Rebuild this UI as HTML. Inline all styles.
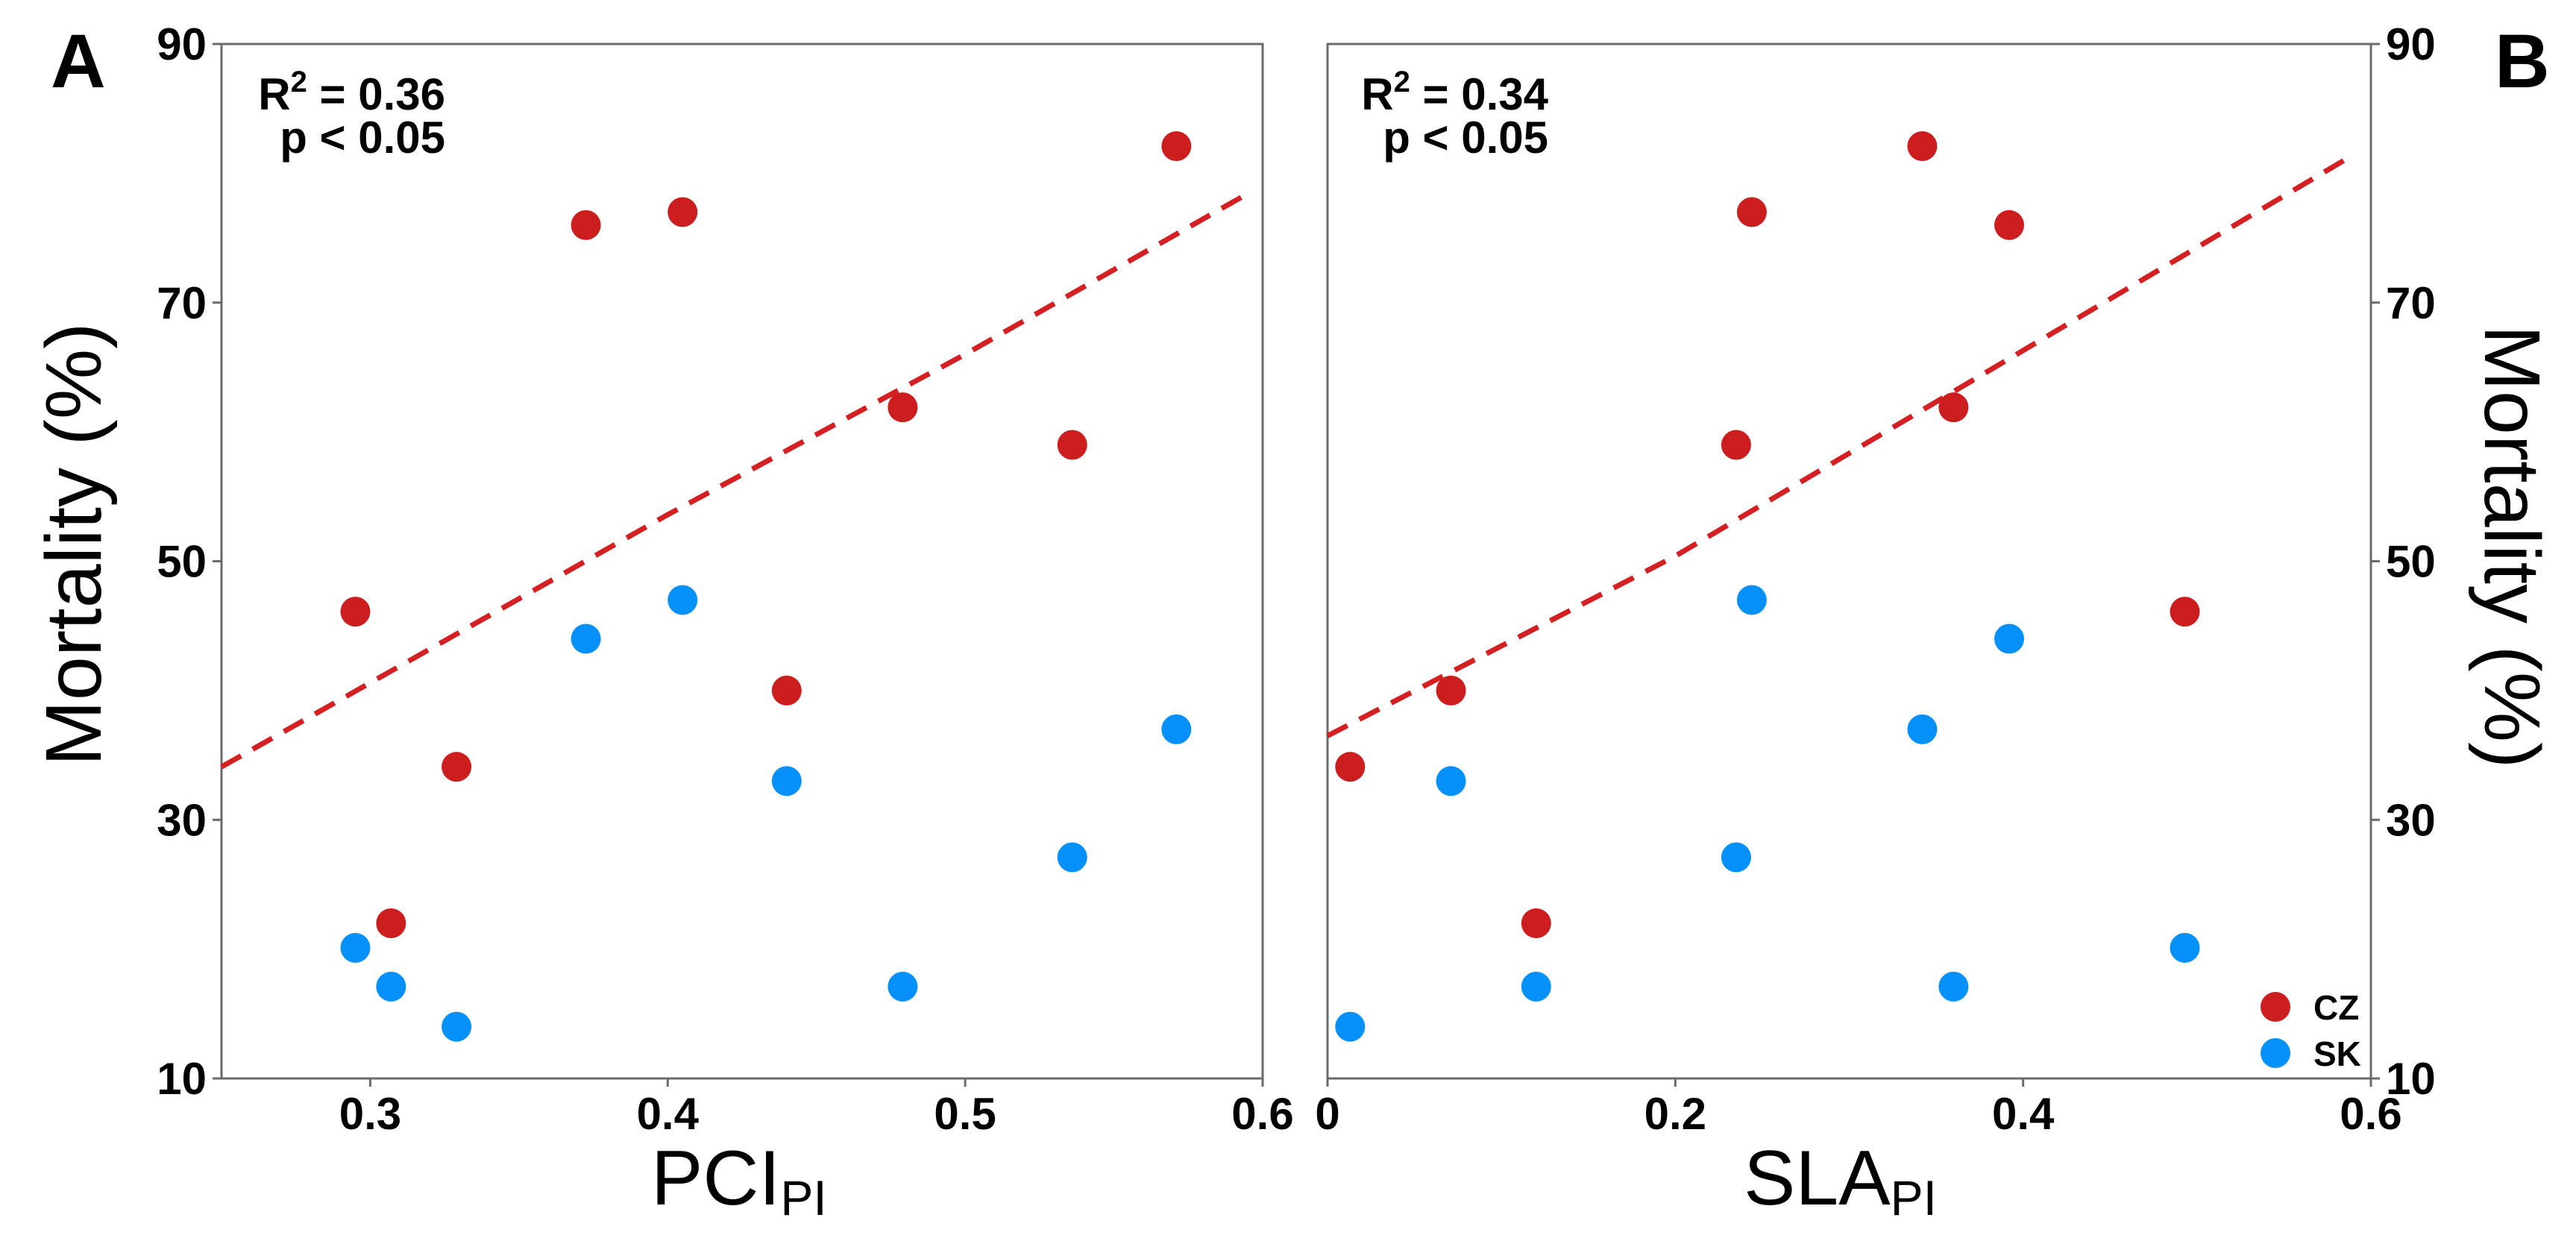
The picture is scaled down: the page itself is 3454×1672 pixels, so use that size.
<!DOCTYPE html>
<html><head><meta charset="utf-8"><style>
html,body{margin:0;padding:0;background:#fff;}
svg{display:block;font-family:"Liberation Sans",Arial,sans-serif;}
</style></head><body>
<svg id="fig" width="3454" height="1672" viewBox="0 0 3454 1672"></svg>
<script>
const yTicks=[10,30,50,70,90];
const xTicksA=[0.3,0.4,0.5,0.6];
const xTicksB=[0,0.2,0.4,0.6];
const pciCZ=[0.295,0.307,0.329,0.3725,0.405,0.440,0.479,0.536,0.571];
const pciCZm=[46.1,22.0,34.1,76.0,77.0,40.0,61.9,59.0,82.1];
const pciSK=[0.295,0.307,0.329,0.3725,0.405,0.440,0.479,0.536,0.571];
const pciSKm=[20.1,17.1,14.0,44.0,47.0,33.0,17.1,27.1,37.0];
const slaCZ=[0.013,0.071,0.120,0.235,0.244,0.342,0.360,0.392,0.493];
const slaCZm=[34.1,40.0,22.0,59.0,77.0,82.1,61.9,76.0,46.1];
const slaSK=[0.013,0.071,0.120,0.235,0.244,0.342,0.360,0.392,0.493];
const slaSKm=[14.0,33.0,17.1,27.1,47.0,37.0,17.1,44.0,20.1];
const trendAx=[0.25,0.4,0.5,0.594];
const trendAy=[34.1,53.6,66.0,78.3];
const trendBx=[0,0.2,0.4,0.587];
const trendBy=[36.5,50.4,66.3,81.2];

const NS="http://www.w3.org/2000/svg";
const svg=document.getElementById('fig');
function mk(tag,attrs,parent,txt){const e=document.createElementNS(NS,tag);for(const k in attrs)e.setAttribute(k,attrs[k]);if(txt!==undefined)e.textContent=txt;(parent||svg).appendChild(e);return e;}
const TOP=59,BOT=1446;
function yS(v){return BOT-(v-10)/80*(BOT-TOP);}
const RED="#cc1d1f",BLUE="#0690fa",AX="#6b6b6b";

function panel(name,x0,x1,xmin,xmax,xt,xtLabels,side){
  const g=mk('g',{});
  
  
  const xS=v=>x0+(v-xmin)/(xmax-xmin)*(x1-x0);
  const f=mk('rect',{x:x0,y:TOP,width:x1-x0,height:BOT-TOP,fill:'none',stroke:AX,'stroke-width':3},g);
  
  
  xt.forEach((t,i)=>{
    const x=xS(t);
    const tk=mk('line',{x1:x,x2:x,y1:BOT,y2:BOT+11,stroke:AX,'stroke-width':3},g);
    
    
    const lb=mk('text',{x:x,y:1514,'text-anchor':'middle','font-size':60,'font-weight':'bold'},g,xtLabels[i]);
    
    
  });
  const ax=side==='left'?x0:x1;
  yTicks.forEach(t=>{
    const y=yS(t);
    const tk=mk('line',{x1:ax,x2:side==='left'?ax-12:ax+12,y1:y,y2:y,stroke:AX,'stroke-width':3},g);
    
    
    const lb=mk('text',{x:side==='left'?ax-20:ax+20,y:y+21,'text-anchor':side==='left'?'end':'start','font-size':60,'font-weight':'bold'},g,String(t));
    
    
  });
  return {g,xS};
}

function dots(g,xS,xs,ys,col,nm){
  xs.forEach((v,i)=>{
    const c=mk('circle',{cx:xS(v),cy:yS(ys[i]),r:20,fill:col},g);
    
    
  });
}
function trend(g,xS,xs,ys){
  const pts=xs.map((v,i)=>xS(v).toFixed(1)+','+yS(ys[i]).toFixed(1)).join(' ');
  const p=mk('polyline',{points:pts,fill:'none',stroke:'#d42022','stroke-width':7,'stroke-dasharray':'30 18'},g);
  
  
}

const A=panel('panel-a',297,1693,0.25,0.6,xTicksA,['0.3','0.4','0.5','0.6'],'left');
trend(A.g,A.xS,trendAx,trendAy);
dots(A.g,A.xS,pciCZ,pciCZm,RED,'point-cz');
dots(A.g,A.xS,pciSK,pciSKm,BLUE,'point-sk');

const B=panel('panel-b',1780,3179,0,0.6,xTicksB,['0','0.2','0.4','0.6'],'right');
trend(B.g,B.xS,trendBx,trendBy);
dots(B.g,B.xS,slaCZ,slaCZm,RED,'point-cz');
dots(B.g,B.xS,slaSK,slaSKm,BLUE,'point-sk');
</script>
<svg width="3454" height="1672" style="position:absolute;left:0;top:0" font-family="Liberation Sans, Arial, sans-serif">
  <text x="68" y="117" font-size="102" font-weight="bold">A</text>
  <text x="3345" y="117" font-size="102" font-weight="bold">B</text>
  <text x="597" y="147" text-anchor="end" font-size="60" font-weight="bold">R<tspan font-size="40" dy="-24">2</tspan><tspan dy="24"> = 0.36</tspan></text>
  <text x="597" y="205" text-anchor="end" font-size="60" font-weight="bold">p &lt; 0.05</text>
  <text x="2076" y="147" text-anchor="end" font-size="60" font-weight="bold">R<tspan font-size="40" dy="-24">2</tspan><tspan dy="24"> = 0.34</tspan></text>
  <text x="2076" y="205" text-anchor="end" font-size="60" font-weight="bold">p &lt; 0.05</text>
  <text transform="translate(135,730) rotate(-90)" text-anchor="middle" font-size="106">Mortality (%)</text>
  <text transform="translate(3332,733) rotate(90)" text-anchor="middle" font-size="106">Mortality (%)</text>
  <text x="873" y="1615" font-size="104">PCI<tspan font-size="66" dy="14">PI</tspan></text>
  <text x="2338" y="1615" font-size="104">SLA<tspan font-size="66" dy="14">PI</tspan></text>
  <g>
    <circle cx="3051" cy="1350" r="20" fill="#cc1d1f"/>
    <text x="3102" y="1367" font-size="46" font-weight="bold">CZ</text>
    <circle cx="3051" cy="1412" r="20" fill="#0690fa"/>
    <text x="3102" y="1429" font-size="46" font-weight="bold">SK</text>
  </g>
</svg>
</body></html>
